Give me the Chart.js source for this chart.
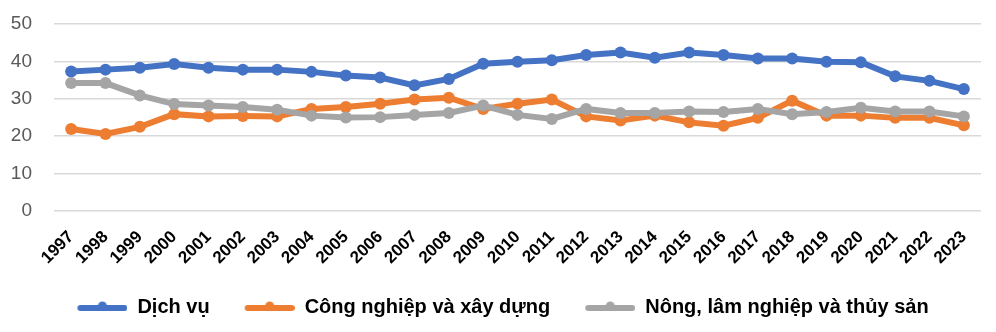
<!DOCTYPE html>
<html>
<head>
<meta charset="utf-8">
<script src="https://cdn.jsdelivr.net/npm/chart.js@4"></script>
<style>
  html, body { margin: 0; padding: 0; background: #fff; }
  #wrap { width: 996px; height: 332px; }
</style>
</head>
<body>
<div id="wrap"><canvas id="gdpChart" width="996" height="332"></canvas></div>
<script>
// Years on the x axis
const years = ['1997', '1998', '1999', '2000', '2001', '2002', '2003', '2004', '2005',
  '2006', '2007', '2008', '2009', '2010', '2011', '2012', '2013', '2014', '2015',
  '2016', '2017', '2018', '2019', '2020', '2021', '2022', '2023'];

// Share of each sector (%)
const dichVu = [37.3, 37.8, 38.3, 39.3, 38.3, 37.8, 37.8, 37.2, 36.2, 35.7, 33.6, 35.3, 39.4,
  39.9, 40.3, 41.7, 42.4, 41.0, 42.4, 41.7, 40.8, 40.8, 39.9, 39.8, 36.0, 34.8, 32.6];
const congNghiep = [21.9, 20.6, 22.5, 25.9, 25.3, 25.4, 25.3, 27.3, 27.8, 28.7, 29.8, 30.3, 27.3,
  28.7, 29.8, 25.3, 24.2, 25.5, 23.7, 22.8, 24.9, 29.5, 25.5, 25.5, 24.9, 24.9, 22.9];
const nongNghiep = [34.2, 34.2, 30.9, 28.6, 28.2, 27.8, 27.1, 25.5, 25.0, 25.1, 25.7, 26.2, 28.2,
  25.7, 24.6, 27.3, 26.2, 26.2, 26.6, 26.5, 27.3, 25.9, 26.5, 27.6, 26.6, 26.6, 25.3];

const yTicks = [0, 10, 20, 30, 40, 50];

const seriesNames = ['Dịch vụ', 'Công nghiệp và xây dựng', 'Nông, lâm nghiệp và thủy sản'];
const seriesColors = ['#4472C4', '#ED7D31', '#A5A5A5'];

// legend marker: blank lead-in, then a thick line with a dot in the middle
const markerGap = 25;
function legendMarker(color) {
  const c = document.createElement('canvas');
  c.width = markerGap + 50;
  c.height = 16;
  const g = c.getContext('2d');
  g.strokeStyle = color;
  g.fillStyle = color;
  g.lineWidth = 6;
  g.lineCap = 'round';
  g.beginPath();
  g.moveTo(markerGap + 3, 9);
  g.lineTo(markerGap + 47, 9);
  g.stroke();
  g.beginPath();
  g.arc(markerGap + 25, 7, 4.5, 0, Math.PI * 2);
  g.fill();
  return c;
}

function makeSeries(i, values) {
  return {
    label: seriesNames[i],
    data: values,
    borderColor: seriesColors[i],
    backgroundColor: seriesColors[i],
    borderWidth: 6,
    pointRadius: 6,
    pointBorderWidth: 0,
    pointHoverRadius: 6,
    pointStyle: 'circle',
    legendMarker: legendMarker(seriesColors[i]),
    order: 3 - i, // later series drawn on top
    tension: 0
  };
}

const font = 'Liberation Sans, Arial, sans-serif';

const ctx = document.getElementById('gdpChart').getContext('2d');
new Chart(ctx, {
  type: 'line',
  data: {
    labels: years,
    datasets: [
      makeSeries(0, dichVu),
      makeSeries(1, congNghiep),
      makeSeries(2, nongNghiep)
    ]
  },
  options: {
    responsive: false,
    animation: false,
    layout: {
      padding: { left: 0, right: 15, top: 24, bottom: 5 }
    },
    plugins: {
      tooltip: { enabled: false },
      legend: {
        position: 'bottom',
        labels: {
          usePointStyle: true,
          pointStyleWidth: markerGap + 50,
          padding: 10,
          color: '#000',
          font: { family: font, size: 20, weight: 'bold' },
          generateLabels: function(chart) {
            return chart.data.datasets.map(function(ds, i) {
              return {
                text: ds.label,
                fillStyle: ds.borderColor,
                strokeStyle: ds.borderColor,
                lineWidth: 0,
                pointStyle: ds.legendMarker,
                datasetIndex: i,
                hidden: false
              };
            });
          }
        }
      }
    },
    scales: {
      x: {
        offset: true,
        grid: { display: false },
        border: { display: false },
        afterFit: function(scale) {
          // let the first rotated label hang into the y axis area
          scale.paddingLeft = 0;
          scale.paddingRight = 0;
          scale.height = 76;
        },
        ticks: {
          minRotation: 45,
          maxRotation: 45,
          autoSkip: false,
          padding: 8,
          color: '#000',
          font: { family: font, size: 17, weight: 'bold' }
        }
      },
      y: {
        min: 0,
        max: 50,
        afterBuildTicks: function(scale) {
          scale.ticks = yTicks.map(function(v) { return { value: v }; });
        },
        afterFit: function(scale) {
          scale.width = 54;
          scale.paddingTop = 0;
          scale.paddingBottom = 0;
        },
        grid: { color: '#D9D9D9', lineWidth: 1.5, drawTicks: false },
        border: { display: false },
        ticks: {
          padding: 22,
          color: '#595959',
          font: { family: font, size: 19 }
        }
      }
    }
  }
});
</script>
</body>
</html>
